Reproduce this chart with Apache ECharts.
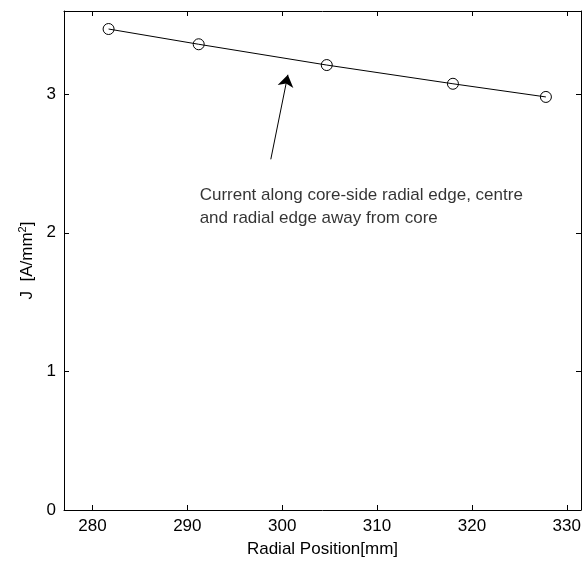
<!DOCTYPE html>
<html>
<head>
<meta charset="utf-8">
<script src="https://cdn.jsdelivr.net/npm/echarts@6/dist/echarts.min.js"></script>
<style>
  html, body { margin: 0; padding: 0; background: #fff; }
  #chart { width: 586px; height: 563px; }
</style>
</head>
<body>
<div id="chart"></div>
<script>
// radial position [mm] and current density J [A/mm2]
var radialPos = [281.7, 291.2, 304.7, 318.0, 327.8]
var currentJ = [3.47, 3.36, 3.21, 3.075, 2.98]
var xTicks = [280, 290, 300, 310, 320, 330]
var yTicks = [0, 1, 2, 3]
var xRange = [277, 331.5]
var yRange = [0, 3.6]
// annotation arrow (tail -> head) and note anchor, data coords
var arrowFrom = [298.8, 2.53]
var arrowTo = [300.6, 3.14]
var noteAt = [291.3, 2.19]
var noteText = 'Current along core-side radial edge, centre\nand radial edge away from core'

var font = 'Liberation Sans, Arial, sans-serif'

function boxAxis(pos, ticks, range, labels, extra) {
  var ax = {
    type: 'value',
    position: pos,
    min: range[0],
    max: range[1],
    splitLine: { show: false },
    axisLine: { show: true, onZero: false, lineStyle: { color: '#000', width: 1 } },
    axisTick: { show: true, inside: true, length: 5, customValues: ticks, lineStyle: { color: '#000' } },
    axisLabel: {
      show: labels,
      customValues: ticks,
      color: '#000',
      fontFamily: font,
      fontSize: 17
    }
  }
  return Object.assign(ax, extra || {})
}

var chart = echarts.init(document.getElementById('chart'))
chart.setOption({
  animation: false,
  grid: { left: 64, right: 5, top: 11, bottom: 51 },
  xAxis: [
    boxAxis('bottom', xTicks, xRange, true, {
      name: 'Radial Position[mm]',
      nameLocation: 'middle',
      nameGap: 31,
      nameTextStyle: { color: '#000', fontFamily: font, fontSize: 17 }
    }),
    boxAxis('top', xTicks, xRange, false)
  ],
  yAxis: [
    boxAxis('left', yTicks, yRange, true, {
      name: 'J  [A/mm{sup|2}]',
      nameLocation: 'middle',
      nameGap: 27,
      nameTextStyle: {
        color: '#000', fontFamily: font, fontSize: 17,
        rich: { sup: { fontSize: 11, verticalAlign: 'top', padding: [0, 0, 8, 0], color: '#000', fontFamily: font } }
      }
    }),
    boxAxis('right', yTicks, yRange, false)
  ],
  series: [
    {
      type: 'line',
      data: radialPos.map(function (x, i) { return [x, currentJ[i]] }),
      symbol: 'circle',
      symbolSize: 11,
      showAllSymbol: true,
      lineStyle: { color: '#000', width: 1 },
      itemStyle: { color: 'rgba(0,0,0,0)', borderColor: '#000', borderWidth: 1 }
    },
    {
      type: 'lines',
      coordinateSystem: 'cartesian2d',
      symbol: ['none', 'arrow'],
      symbolSize: [7, 12],
      lineStyle: { color: '#000', width: 1, opacity: 1 },
      data: [{ coords: [arrowFrom, arrowTo] }]
    },
    {
      type: 'scatter',
      symbolSize: 0,
      silent: true,
      data: [noteAt],
      label: {
        show: true,
        position: 'right',
        distance: 0,
        formatter: noteText,
        color: '#000',
        fontFamily: font,
        fontSize: 17,
        lineHeight: 23,
        align: 'left'
      }
    }
  ]
})
</script>
</body>
</html>
